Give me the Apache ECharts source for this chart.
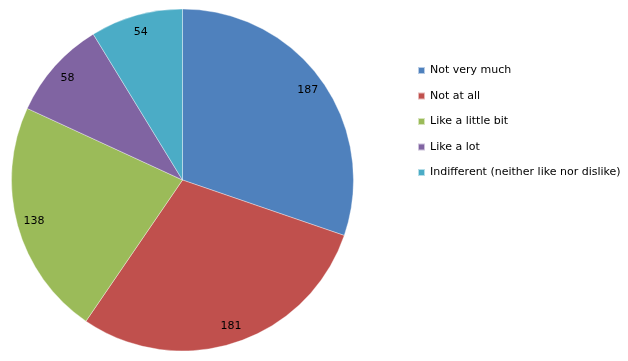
<!DOCTYPE html>
<html><head><meta charset="utf-8">
<script src="https://cdn.jsdelivr.net/npm/echarts@6/dist/echarts.min.js"></script>
<style>html,body{margin:0;padding:0;background:#fff}#c{width:628px;height:361px}</style>
</head><body><div id="c"></div>
<script>
const categories = ["Not very much", "Not at all", "Like a little bit", "Like a lot", "Indifferent (neither like nor dislike)"];
const values = [187, 181, 138, 58, 54];
const colors = ["#4F81BD", "#C0504D", "#9BBB59", "#8064A2", "#4BACC6"];

const data = categories.map((n, i) => ({ name: n, value: values[i] }));
const chart = echarts.init(document.getElementById('c'), null, { renderer: 'canvas' });
chart.setOption({
  animation: false,
  color: colors,
  legend: {
    orient: 'vertical', left: 412, top: 59,
    itemWidth: 7, itemHeight: 7, itemGap: 12.5, icon: 'rect',
    data: categories,
    textStyle: { fontFamily: 'DejaVu Sans', fontSize: 11, color: '#000', lineHeight: 13 }
  },
  series: [
    {
      type: 'pie', center: [182.5, 180], radius: [0, 171], startAngle: 90, clockwise: true,
      data: data, label: { show: false }, labelLine: { show: false },
      itemStyle: { borderColor: 'rgba(255,255,255,0.6)', borderWidth: 0.6 },
      emphasis: { disabled: true }, silent: true
    },
    {
      type: 'pie', center: [182.5, 180], radius: [131, 171], startAngle: 90, clockwise: true,
      data: data, itemStyle: { color: 'rgba(0,0,0,0)', borderWidth: 0 }, labelLine: { show: false },
      label: { show: true, position: 'inside', formatter: '{c}', color: '#000', fontFamily: 'DejaVu Sans', fontSize: 11 },
      emphasis: { disabled: true }, silent: true, legendHoverLink: false
    }
  ]
});
</script></body></html>
